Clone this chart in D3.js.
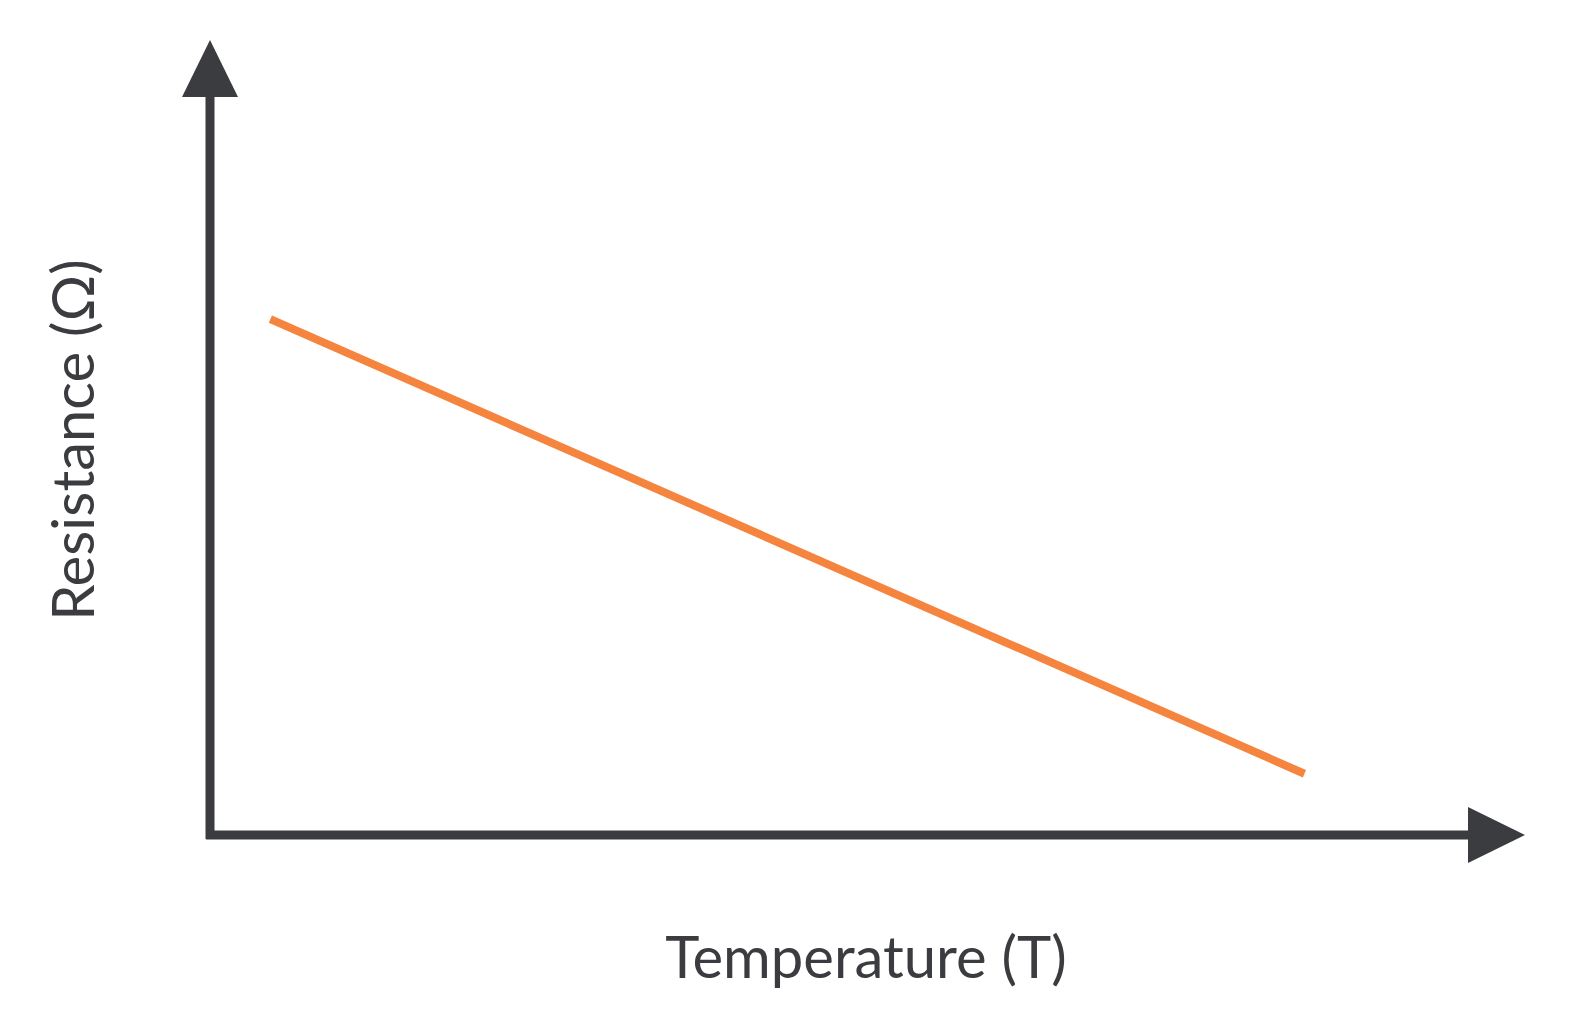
<!DOCTYPE html>
<html><head><meta charset="utf-8">
<script src="https://cdn.jsdelivr.net/npm/d3@7"></script>
<style>body{margin:0;background:#fff}</style></head>
<body><svg id="c" width="1580" height="1034"></svg>
<script>
const temperature = [4.8, 87];
const resistance = [69.9, 8.3];
const xLabel = "Temperature (T)";
const yLabel = "Resistance (Ω)";

const svg = d3.select("#c");
const axisColor = "#3b3c40";
const x = d3.scaleLinear().domain([0,100]).range([210,1468]);
const y = d3.scaleLinear().domain([0,100]).range([835,97]);

// axes
svg.append("line").attr("x1",x(0)).attr("x2",x(0)).attr("y1",y(0)+4).attr("y2",y(100))
  .attr("stroke",axisColor).attr("stroke-width",9);
svg.append("line").attr("x1",x(0)-4).attr("x2",x(100)).attr("y1",y(0)).attr("y2",y(0))
  .attr("stroke",axisColor).attr("stroke-width",9);
svg.append("path").attr("d",`M${x(0)-28},${y(100)} L${x(0)},${y(100)-57} L${x(0)+28},${y(100)} Z`).attr("fill",axisColor);
svg.append("path").attr("d",`M${x(100)},${y(0)-28} L${x(100)+57},${y(0)} L${x(100)},${y(0)+28} Z`).attr("fill",axisColor);

// line
const pts = temperature.map((t,i)=>[t,resistance[i]]);
svg.append("path").datum(pts)
  .attr("d",d3.line().x(d=>x(d[0])).y(d=>y(d[1])))
  .attr("fill","none").attr("stroke","#f5843f").attr("stroke-width",8);

// labels
svg.append("text").attr("x",866).attr("y",978).attr("text-anchor","middle")
  .attr("font-family","Lato, 'Open Sans', sans-serif").attr("font-size",58).attr("fill",axisColor).text(xLabel);
svg.append("text").attr("transform","translate(94,440) rotate(-90)").attr("text-anchor","middle")
  .attr("font-family","Lato, 'Open Sans', sans-serif").attr("font-size",58).attr("fill",axisColor).text(yLabel);
</script></body></html>
